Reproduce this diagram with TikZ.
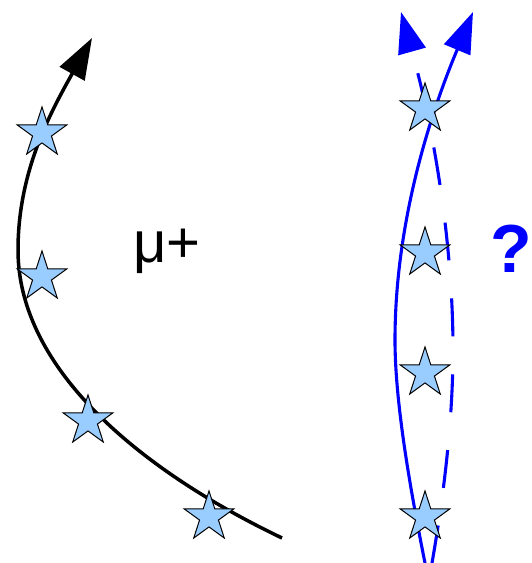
\documentclass[tikz,border=0pt]{standalone}
\usepackage{fontspec}
\setmainfont{Liberation Sans}
\usetikzlibrary{arrows.meta,shapes.geometric}

\definecolor{starblue}{RGB}{153,204,255}
\definecolor{pathblue}{RGB}{0,0,255}

\begin{document}
\begin{tikzpicture}[
    x=0.5pt, y=-0.5pt,
    tip/.style={-{Triangle[length=20.5pt,width=14pt]}},
    muon/.style={tip, draw=black, line width=1.75pt},
    guess/.style={tip, draw=pathblue, line width=1.55pt},
    guessdash/.style={guess, dash pattern=on 19pt off 19pt},
    hit/.style={
        star,
        star points=5,
        star point ratio=2.618,
        draw=black,
        fill=starblue,
        line width=0.5pt,
        inner sep=0pt,
        minimum size=26pt
    }
]
\useasboundingbox (0,0) rectangle (531,563);

% track end points
\coordinate (kstart) at (282,538);
\coordinate (kturn) at (18,250);
\coordinate (kend) at (92,38);
\coordinate (sstart) at (425,563);
\coordinate (sturn) at (395,340);
\coordinate (send) at (473,12);
\coordinate (dstart) at (432,563);
\coordinate (dturn) at (453,350);
\coordinate (dend) at (401,12);

\draw[muon] (kstart) .. controls (142,471) and (18,370) .. (kturn)
    .. controls (18,170) and (52,110) .. (kend);
\draw[guess] (sstart) .. controls (409,483) and (395,400) .. (sturn)
    .. controls (395,230) and (426,124) .. (send);
\draw[guessdash] (dstart) .. controls (446,483) and (453,410) .. (dturn)
    .. controls (453,250) and (436,137) .. (dend);

% hits
\node[hit] (h1) at (42,133) {};
\node[hit] (h2) at (42,277) {};
\node[hit] (h3) at (88,421) {};
\node[hit] (h4) at (209,517) {};
\node[hit] (r1) at (425,109) {};
\node[hit] (r2) at (425,253) {};
\node[hit] (r3) at (425,373) {};
\node[hit] (r4) at (425,517) {};

\node[anchor=base west, inner sep=0pt, font=\fontsize{29}{34}\selectfont] (label) at (133,262) {μ+};
\node[anchor=base, inner sep=0pt, text=pathblue, font=\fontsize{34}{40}\selectfont\bfseries] (ask) at (511,272) {?};

\end{tikzpicture}
\end{document}
